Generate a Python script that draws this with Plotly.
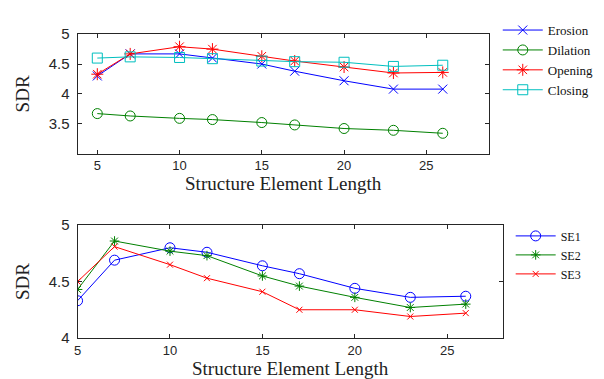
import plotly.graph_objects as go

x_top = [5, 7, 10, 12, 15, 17, 20, 23, 26]
erosion = [4.30, 4.67, 4.67, 4.60, 4.50, 4.38, 4.22, 4.08, 4.08]
dilation = [3.67, 3.63, 3.59, 3.57, 3.52, 3.48, 3.42, 3.39, 3.34]
opening = [4.33, 4.67, 4.79, 4.75, 4.63, 4.55, 4.45, 4.35, 4.36]
closing = [4.60, 4.62, 4.61, 4.59, 4.55, 4.54, 4.53, 4.46, 4.48]

x_bot = [5, 7, 10, 12, 15, 17, 20, 23, 26]
se1 = [4.33, 4.69, 4.80, 4.76, 4.64, 4.57, 4.44, 4.36, 4.37]
se2 = [4.43, 4.86, 4.77, 4.73, 4.55, 4.46, 4.36, 4.27, 4.30]
se3 = [4.50, 4.81, 4.65, 4.53, 4.41, 4.25, 4.25, 4.19, 4.22]

W, H = 604, 379
BLUE, GREEN, RED, CYAN = "#0000FF", "#008000", "#FF0000", "#00BFBF"
SERIF = "Liberation Serif"
SANS = "Liberation Sans"

fig = go.Figure()

def add(x, y, name, color, symbol, size, xa, ya, legend):
    fig.add_trace(go.Scatter(
        x=x, y=y, name=name, mode="lines+markers", xaxis=xa, yaxis=ya, legend=legend,
        line=dict(color=color, width=1),
        marker=dict(symbol=symbol, size=size, color=color, line=dict(color=color, width=1)),
    ))

add(x_top, erosion, "Erosion", BLUE, "x-thin-open", 9, "x", "y", "legend")
add(x_top, dilation, "Dilation", GREEN, "circle-open", 10, "x", "y", "legend")
add(x_top, opening, "Opening", RED, "asterisk-open", 10, "x", "y", "legend")
add(x_top, closing, "Closing", CYAN, "square-open", 10, "x", "y", "legend")

add(x_bot, se1, "SE1", BLUE, "circle-open", 10, "x2", "y2", "legend2")
add(x_bot, se2, "SE2", GREEN, "asterisk-open", 8, "x2", "y2", "legend2")
add(x_bot, se3, "SE3", RED, "x-thin-open", 6, "x2", "y2", "legend2")

def px_x(p):
    return p / W

def px_y(p):
    return 1 - p / H

axis_common = dict(
    showline=True, linecolor="#262626", linewidth=1, mirror="ticks",
    ticks="inside", ticklen=4, tickcolor="#262626", showgrid=False, zeroline=False,
)
xtick_font = dict(family=SANS, size=13, color="#262626")
ytick_font = dict(family=SANS, size=15, color="#262626")
title_font = dict(family=SERIF, size=19, color="#222")

fig.update_layout(
    width=W, height=H,
    margin=dict(l=0, r=0, t=0, b=0),
    paper_bgcolor="white", plot_bgcolor="white",
    xaxis=dict(domain=[px_x(66), px_x(480)], range=[3.8, 28.8], anchor="y",
               tickvals=[5, 10, 15, 20, 25], tickfont=xtick_font,
               title=dict(text="Structure Element Length", font=title_font, standoff=0),
               **axis_common),
    yaxis=dict(domain=[px_y(143), px_y(18)], range=[3.0, 5.0], anchor="x",
               tickvals=[3.5, 4, 4.5, 5], ticktext=["3.5", "4", "4.5", "5"],
               tickfont=ytick_font, ticklabelstandoff=4,
               title=dict(text="SDR", font=title_font, standoff=14),
               **axis_common),
    xaxis2=dict(domain=[px_x(66), px_x(494)], range=[5, 28], anchor="y2",
                tickvals=[5, 10, 15, 20, 25], tickfont=xtick_font,
                title=dict(text="Structure Element Length", font=title_font, standoff=0),
                **axis_common),
    yaxis2=dict(domain=[px_y(336), px_y(218)], range=[4, 5], anchor="x2",
                tickvals=[4, 4.5, 5], tickfont=ytick_font, ticklabelstandoff=4,
                title=dict(text="SDR", font=title_font, standoff=14),
                **axis_common),
    legend=dict(x=px_x(489), y=px_y(-2), xanchor="left", yanchor="top",
                bgcolor="rgba(0,0,0,0)", borderwidth=0, tracegroupgap=0,
                font=dict(family=SERIF, size=13, color="#111"), itemwidth=40),
    legend2=dict(x=px_x(502), y=px_y(214), xanchor="left", yanchor="top",
                 bgcolor="rgba(0,0,0,0)", borderwidth=0, tracegroupgap=0,
                 font=dict(family=SERIF, size=12, color="#111"), itemwidth=40),
    showlegend=True,
)

fig.write_html("out.html")
